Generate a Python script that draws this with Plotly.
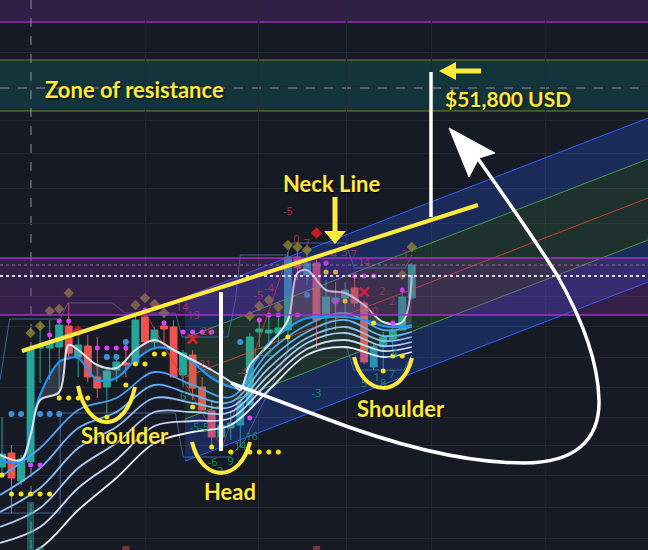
import plotly.graph_objects as go

# ---------------- calibration of the screenshot (pixel -> data) ----------------
BAR0_PX, BAR_PX = 2.0, 9.53          # centre of bar 0, spacing of bars (px)
PRICE_TOP, PRICE_PER_PX = 54000.0, 25.0


def X(px):
    return (px - BAR0_PX) / BAR_PX


def Y(py):
    return PRICE_TOP - PRICE_PER_PX * py


# ---------------- data ----------------
bars = list(range(44))
opens = [42325, 42675, 41975, 42450, 45300, 45300, 45325, 45850, 45075, 45350, 44575,
         44325, 44750, 44925, 44925, 46075, 45450, 45850, 45825, 44625, 45125, 44325,
         43725, 43075, 43300, 43375, 43875, 45700, 45675, 45675, 45750, 47575, 47125,
         47425, 46050, 46450, 46550, 46800, 46425, 44825, 45325, 45500, 45750, 46550]
highs = [43575, 42875, 42625, 45375, 45925, 46000, 45950, 46425, 45575, 45625, 45575,
         44825, 45125, 45450, 46125, 46300, 45825, 46000, 46000, 45250, 45250, 44575,
         44000, 43425, 43750, 44075, 45675, 46000, 46075, 46050, 47700, 47800, 47650,
         47550, 47000, 46950, 46950, 47075, 46500, 45425, 45700, 45875, 46800, 47425]
lows = [42050, 41175, 41875, 42375, 44425, 44500, 44050, 45000, 44575, 44450, 44050,
        43675, 44450, 44575, 44875, 45425, 45250, 45425, 44550, 44325, 44000, 43750,
        42825, 42825, 43000, 42825, 43800, 45325, 45425, 45375, 45250, 47000, 46875,
        45300, 45550, 45750, 46075, 46325, 44900, 44750, 44750, 45200, 45750, 46500]
closes = [42650, 42050, 42525, 45300, 45375, 45450, 45875, 45175, 45375, 44575, 44300,
          44725, 44950, 44875, 46000, 45450, 45750, 45775, 44575, 45175, 44300, 43750,
          43075, 43375, 43425, 43950, 45575, 45775, 45750, 45800, 47575, 47300, 47425,
          46000, 46575, 46550, 46750, 46425, 44950, 45325, 45575, 45750, 46575, 47375]

vol_bars = [3, 4, 13, 33]
vol_vals = [48, 3, 4, 4]
vol_cols = ["rgba(38,166,154,0.45)", "rgba(38,166,154,0.45)",
            "rgba(239,83,80,0.45)", "rgba(239,83,80,0.45)"]

# moving-average ribbon
rib_x = [-0.2, 2, 3, 4, 6, 7, 8, 10, 12, 14, 16, 18, 20, 22, 24, 25, 26, 28, 30, 31,
         32, 34, 36, 38, 40, 42, 43]
rib_fast = [42625, 42500, 43125, 44000, 44200, 45375, 45250, 44875, 44800, 45250, 45500,
            45250, 45000, 44750, 44450, 44250, 44875, 45375, 46000, 47175, 47250, 46750,
            46675, 46375, 45950, 45950, 47125]
rib_top = [42500, 42450, 43250, 44125, 44950, 45050, 45050, 44500, 44550, 45000, 45300,
           45250, 44950, 44550, 44325, 44300, 44750, 45425, 45800, 45950, 46050, 46075,
           46075, 46000, 45850, 45825, 45875]
fan_x = [-0.2, 4, 8, 12, 16, 20, 24, 28, 32, 36, 40, 43]
fan_b = [42075, 42800, 43750, 44050, 44700, 44375, 44075, 45200, 45875, 46175, 45750, 45825]
fan_c = [41625, 42300, 43300, 43700, 44375, 44125, 43950, 45000, 45700, 46000, 45600, 45700]
fan_d = [41200, 41800, 42800, 43325, 44050, 43925, 43825, 44800, 45550, 45825, 45475, 45575]
fan_e = [40825, 41300, 42300, 42925, 43700, 43700, 43700, 44625, 45425, 45675, 45350, 45450]
fan_f = [40425, 40825, 41800, 42500, 43350, 43475, 43550, 44450, 45275, 45500, 45225, 45325]
fan_g = [39950, 40300, 41250, 42050, 42925, 43200, 43375, 44250, 45125, 45325, 45075, 45200]

# regression channel
chan_x = [19.2, 67.8]
chan_upper = [46570, 51050]
chan_upper_mid = [45545, 50025]
chan_mid = [44570, 49050]
chan_lower_mid = [43520, 48000]
chan_lower = [42470, 46950]

# donchian-style steps
don_up_x = [-0.2, 0.8, 6.1, 6.9, 11.6, 12.9, 18.2, 18.9, 23.7, 24.5, 25.0, 29.9, 30.4,
            36.0, 37.0, 42.3, 43.0]
don_up = [44500, 46025, 46025, 46425, 46425, 46175, 46175, 45575, 45575, 46500, 47625,
          47625, 47925, 47925, 47300, 47300, 47625]
don_lo_x = [-0.2, 6.1, 6.1, 18.2, 19.0, 23.9, 25.5, 30.2, 36.2, 36.9, 42.2, 43.0]
don_lo = [41175, 41175, 43675, 43675, 42575, 42575, 43000, 45300, 45300, 44750, 44750, 45125]

zig_x = [15.0, 23.1, 30.0]
zig_y = [46200, 42800, 47625]

# signal dots
yel_x = [0, 1, 2, 3, 4, 5, 6, 7, 8, 9, 11, 13, 14, 15, 16, 17, 20, 22, 24, 26, 27, 28, 29,
         30, 34, 35, 36, 39, 40, 41, 42]
yel_y = [42125, 41650, 41650, 41650, 41650, 41650, 44050, 44050, 44050, 44050, 43575,
         44375, 44900, 44900, 45150, 45150, 43825, 42825, 42700, 42700, 42700, 42700,
         42700, 45575, 47200, 47200, 46475, 45925, 44725, 45100, 45100]
mag_x = [3, 4, 5, 6, 7, 10, 11, 12, 13, 15, 17, 19, 20, 21, 22, 23, 26, 27, 28, 29, 31,
         34, 35, 37, 38, 39, 41, 42]
mag_y = [42375, 42375, 45625, 45975, 45975, 45300, 45300, 45300, 45300, 46250, 45925,
         45700, 45700, 45700, 45700, 45700, 43550, 46000, 46125, 46125, 46125, 47425,
         46450, 47100, 47100, 47100, 45925, 46750]
blu_x = [1, 2, 4, 5, 6, 11, 12, 13, 25, 32]
blu_y = [43650, 43650, 43650, 43650, 43650, 45075, 45075, 45450, 45450, 46625]
dia_x = [3, 4, 5, 6, 7, 14, 15, 16, 17, 26, 27, 28, 29, 30, 31, 32, 42, 43]
dia_y = [45675, 45850, 46225, 46275, 46675, 46375, 46550, 46400, 46175, 46100, 46350,
         46500, 46325, 47875, 47825, 47750, 47125, 47825]
rdia_x = [8, 33]
rdia_y = [45725, 48175]
xs_x = [20, 38]
xs_y = [45525, 46700]

# TD-sequential counts
td_red_x = [30.0, 30.9, 32.0, 34.8, 35.9, 36.9, 38.0, 26.9, 28.0, 18.9, 20.1, 21.5, 21.3,
            25.2, 39.9, 40.9, 38.8, 42.2]
td_red_y = [48700, 48000, 47900, 47625, 47675, 47625, 47425, 46600, 46775, 46300, 46100,
            45700, 44875, 44675, 46700, 46450, 46200, 47625]
td_red_t = ["-5", "0", "7", "4", "3", "7", "14", "-5", "-4", "14", "19", "20", "21", "-4",
            "2", "2", "10", "3"]
td_grn_x = [20.7, 22.1, 22.9, 24.0, 25.0, 26.2, 33.0, 26.9, 28.1, 41.2, 40.9, 39.3, 38.0,
            40.0, 19.0]
td_grn_y = [43300, 42425, 42200, 42450, 42825, 43075, 44150, 45175, 45175, 45150, 44625,
            44550, 44400, 44400, 44075]
td_grn_t = ["-5-5", "-6", "2", "9", "14", "16", "-3", "12", "2", "4", "7", "1", "5", "8",
            "6"]

# levels / zones
top_band = (53450, 54000)
resistance_zone = (51225, 52500)
target_price = 51800
purple_zone = (46125, 47550)
dotted_levels = [47375, 47100]

BG = "#161a25"
YEL = "#ffeb3b"

fig = go.Figure()

# ---- regression channel ----
def chan_line(y, color, fill=None, fillcolor=None):
    fig.add_trace(go.Scatter(x=chan_x, y=y, mode="lines", line=dict(color=color, width=1),
                             fill=fill, fillcolor=fillcolor, hoverinfo="skip"))

chan_line(chan_upper, "#2962ff")
chan_line(chan_upper_mid, "rgba(76,175,80,0.85)", "tonexty", "rgba(41,98,255,0.24)")
chan_line(chan_mid, "rgba(244,67,54,0.8)", "tonexty", "rgba(76,175,80,0.16)")
chan_line(chan_lower_mid, "rgba(76,175,80,0.85)", "tonexty", "rgba(76,175,80,0.16)")
chan_line(chan_lower, "#2962ff", "tonexty", "rgba(41,98,255,0.24)")

# ---- donchian steps & zigzag ----
fig.add_trace(go.Scatter(x=don_up_x, y=don_up, mode="lines",
                         line=dict(color="rgba(80,120,180,0.75)", width=1), hoverinfo="skip"))
fig.add_trace(go.Scatter(x=don_lo_x, y=don_lo, mode="lines",
                         line=dict(color="rgba(80,120,180,0.75)", width=1), hoverinfo="skip"))
fig.add_trace(go.Scatter(x=zig_x, y=zig_y, mode="lines",
                         line=dict(color="rgba(229,57,53,0.75)", width=1), hoverinfo="skip"))

# ---- ribbon ----
for ys, col in [(fan_g, "#e3eaf5"), (fan_f, "#c9dbf2"), (fan_e, "#acc9ee"),
                (fan_d, "#90bdf0"), (fan_c, "#6cb1f3"), (fan_b, "#4aa3f3")]:
    fig.add_trace(go.Scatter(x=fan_x, y=ys, mode="lines", line=dict(color=col, width=1.8),
                             line_shape="spline", hoverinfo="skip"))
fig.add_trace(go.Scatter(x=rib_x, y=rib_top, mode="lines",
                         line=dict(color="#2196f3", width=2.2), line_shape="spline",
                         hoverinfo="skip"))
fig.add_trace(go.Scatter(x=rib_x, y=rib_fast, mode="lines",
                         line=dict(color="rgba(235,238,245,0.9)", width=2),
                         line_shape="spline", fill="tonexty",
                         fillcolor="rgba(150,160,185,0.22)", hoverinfo="skip"))

# ---- volume ----
fig.add_trace(go.Bar(x=vol_bars, y=vol_vals, marker=dict(color=vol_cols, line_width=0),
                     width=0.75, yaxis="y2", hoverinfo="skip"))

# ---- candles ----
fig.add_trace(go.Candlestick(
    x=bars, open=opens, high=highs, low=lows, close=closes,
    increasing=dict(line=dict(color="#26a69a", width=1), fillcolor="#26a69a"),
    decreasing=dict(line=dict(color="#ef5350", width=1), fillcolor="#ef5350"),
    whiskerwidth=0, hoverinfo="skip"))

# ---- signal markers ----
fig.add_trace(go.Scatter(x=dia_x, y=dia_y, mode="markers",
                         marker=dict(symbol="diamond", size=8, color="rgba(150,140,50,0.75)"),
                         hoverinfo="skip"))
fig.add_trace(go.Scatter(x=rdia_x, y=rdia_y, mode="markers",
                         marker=dict(symbol="diamond", size=9, color="#c41c1c"),
                         hoverinfo="skip"))
fig.add_trace(go.Scatter(x=yel_x, y=yel_y, mode="markers",
                         marker=dict(size=5, color="#f5e11c"), hoverinfo="skip"))
fig.add_trace(go.Scatter(x=mag_x, y=mag_y, mode="markers",
                         marker=dict(size=5, color="#e040fb"), hoverinfo="skip"))
fig.add_trace(go.Scatter(x=blu_x, y=blu_y, mode="markers",
                         marker=dict(size=6, color="#3d8fd6"), hoverinfo="skip"))
fig.add_trace(go.Scatter(x=xs_x, y=xs_y, mode="markers",
                         marker=dict(symbol="x-thin", size=9,
                                     line=dict(color="#e52020", width=2.5)),
                         hoverinfo="skip"))
fig.add_trace(go.Scatter(x=td_red_x, y=td_red_y, text=td_red_t, mode="text",
                         textfont=dict(family="Noto Sans", size=11, color="rgba(190,55,70,0.8)"),
                         hoverinfo="skip"))
fig.add_trace(go.Scatter(x=td_grn_x, y=td_grn_y, text=td_grn_t, mode="text",
                         textfont=dict(family="Noto Sans", size=11, color="rgba(30,150,90,0.9)"),
                         hoverinfo="skip"))

# ---------------- shapes ----------------
shapes = []
xl, xr = X(0), X(648)


def hband(y0, y1, fill, layer="below"):
    shapes.append(dict(type="rect", xref="x", yref="y", x0=xl, x1=xr, y0=y0, y1=y1,
                       fillcolor=fill, line_width=0, layer=layer))


def hline(y, color, width=1, dash="solid", layer="below"):
    shapes.append(dict(type="line", xref="x", yref="y", x0=xl, x1=xr, y0=y, y1=y,
                       line=dict(color=color, width=width, dash=dash), layer=layer))


hband(top_band[0], top_band[1], "#301f45")
hline(top_band[0], "#9c27b0", 1.5)
hband(resistance_zone[0], resistance_zone[1], "#12343a")
hline(resistance_zone[0], "#5e5c20", 1.5)
hline(resistance_zone[1], "#5e5c20", 1.5)
hline(target_price, "#8a8e99", 1, "dash")
hband(purple_zone[0], purple_zone[1], "rgba(140,45,175,0.26)", "above")
hline(purple_zone[0], "#a230c8", 1.5, layer="above")
hline(purple_zone[1], "#a230c8", 1.5, layer="above")
hline(dotted_levels[0], "rgba(150,155,170,0.7)", 1, "dot", "above")
hline(dotted_levels[1], "rgba(235,235,240,0.9)", 2, "dot", "above")
shapes.append(dict(type="line", xref="x", yref="y", x0=X(31), x1=X(31), y0=Y(0), y1=Y(550),
                   line=dict(color="rgba(160,165,175,0.55)", width=1.5, dash="dash"),
                   layer="below"))


def path(cmds):
    out = []
    for c in cmds:
        op, pts = c[0], c[1:]
        out.append(op + " " + " ".join(f"{X(px):.4f},{Y(py):.2f}" for px, py in pts))
    return " ".join(out)


def add_path(cmds, color, width=0, fill=None):
    d = dict(type="path", xref="x", yref="y", path=path(cmds), layer="above",
             line=dict(color=color, width=width))
    if fill:
        d["fillcolor"] = fill
    shapes.append(d)


def add_line(p0, p1, color, width):
    shapes.append(dict(type="line", xref="x", yref="y", x0=X(p0[0]), y0=Y(p0[1]),
                       x1=X(p1[0]), y1=Y(p1[1]), line=dict(color=color, width=width),
                       layer="above"))


# neck line
add_line((22, 351), (478, 205), YEL, 4)
# white measurement lines
add_line((221, 292), (221, 451), "white", 4)
add_line((431, 72), (431, 217), "white", 3.5)
# yellow down arrow
add_line((335, 197), (335, 233), YEL, 5)
add_path([("M", (324, 231)), ("L", (346, 231)), ("L", (335, 244)), ("Z",)], YEL, 0, YEL)
# yellow left arrow
add_line((452, 71), (481, 71), YEL, 5)
add_path([("M", (439, 71)), ("L", (456, 62)), ("L", (456, 80)), ("Z",)], YEL, 0, YEL)
# smile arcs
add_path([("M", (78, 386)), ("C", (88, 434), (125, 434), (135, 387))], YEL, 4)
add_path([("M", (192, 442)), ("C", (202, 483), (240, 483), (250, 442))], YEL, 4)
add_path([("M", (354, 357)), ("C", (364, 398), (402, 398), (412, 358))], YEL, 4)
# big white curved arrow
add_path([("M", (231, 383)), ("L", (324, 418)),
          ("C", (400, 447), (470, 463), (524, 463)),
          ("C", (575, 463), (600, 440), (599, 400)),
          ("C", (598, 355), (577, 310), (557, 275)),
          ("C", (530, 232), (500, 190), (474, 153))], "white", 3.5)
add_path([("M", (449, 128)), ("L", (495, 153)), ("L", (479, 158)), ("L", (469, 177)), ("Z",)],
         "white", 1, "white")

# ---------------- annotations ----------------
ann = []
labels = [("Zone of resistance", 134, 89, 22), ("$51,800 USD", 508, 98, 21),
          ("Neck Line", 331, 183, 22), ("Shoulder", 125, 435, 22),
          ("Shoulder", 401, 408, 22), ("Head", 230, 491, 22)]
for t, px, py, s in labels:
    ann.append(dict(text=t, x=X(px), y=Y(py), xref="x", yref="y", showarrow=False,
                    xanchor="center", yanchor="middle",
                    font=dict(family="Lato", size=s, color=YEL, weight="bold",
                              shadow="1px 1px 2px rgba(0,0,0,0.9)")))

grid_y = [Y(p) for p in [52, 86, 120, 153, 188, 223, 296, 326, 357, 387, 417, 445, 475,
                         507, 538]]
grid_x = [X(p) for p in [145, 258, 346, 431, 545]]

fig.update_layout(
    width=648, height=550, margin=dict(l=0, r=0, t=0, b=0),
    paper_bgcolor=BG, plot_bgcolor=BG, showlegend=False,
    shapes=shapes, annotations=ann,
    xaxis=dict(range=[xl, xr], rangeslider=dict(visible=False), showticklabels=False,
               tickvals=grid_x, showgrid=True, gridcolor="#232733", gridwidth=1,
               zeroline=False, showline=False, ticks=""),
    yaxis=dict(range=[Y(550), Y(0)], showticklabels=False, tickvals=grid_y,
               showgrid=True, gridcolor="#232733", gridwidth=1, zeroline=False,
               showline=False, ticks=""),
    yaxis2=dict(range=[0, 550], overlaying="y", visible=False),
    boxgap=0.28, boxgroupgap=0,
)

fig.write_html("out.html")
